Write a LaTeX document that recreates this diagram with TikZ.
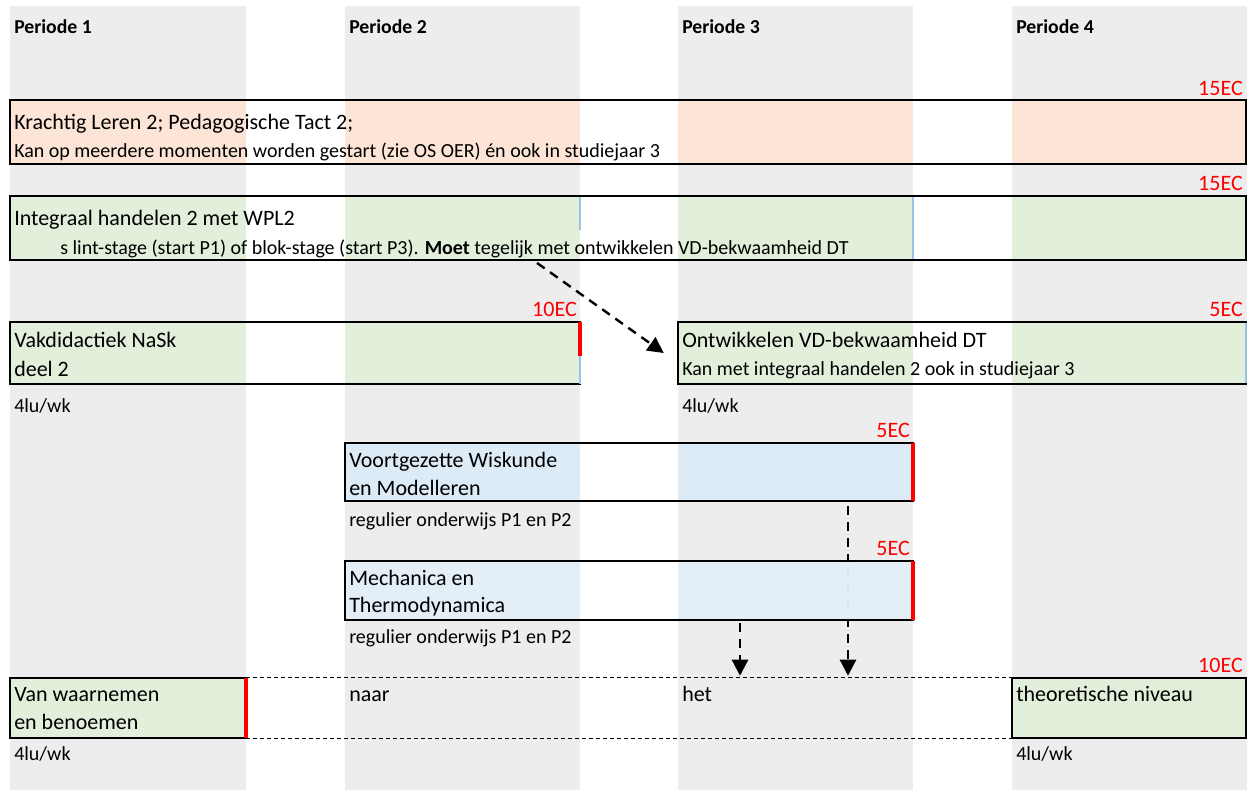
\documentclass[tikz,border=0pt]{standalone}
\usepackage{fontspec}
\setmainfont{Carlito}
\usetikzlibrary{arrows.meta,fit}
\definecolor{colgray}{HTML}{EDEDED}
\definecolor{orf}{HTML}{FCE4D6}
\definecolor{grf}{HTML}{E2EFDA}
\definecolor{blf}{HTML}{DDEBF7}
\definecolor{ecred}{HTML}{FF0000}
\definecolor{gridblue}{HTML}{9BC2E6}
\newcommand\segs[4]{\foreach \a/\b in {#4}{\fill[#1] (\a,#2) rectangle (\b,#3);}}
\begin{document}
\begin{tikzpicture}[x=0.75pt,y=-0.75pt,
  box/.style={draw=black,line width=1.4pt,inner sep=0pt},
  txt/.style={anchor=base west,inner sep=0pt,font=\fontsize{16.5}{19}\selectfont},
  sml/.style={anchor=base west,inner sep=0pt,font=\fontsize{15}{18}\selectfont},
  hdr/.style={anchor=base west,inner sep=0pt,font=\bfseries\fontsize{14.8}{17}\selectfont},
  ec/.style={anchor=base east,inner sep=0pt,text=ecred,font=\fontsize{16.5}{19}\selectfont},
  darrow/.style={line width=1.8pt,dash pattern=on 7pt off 5pt,-{Triangle[length=12pt,width=12pt]}},
  dline/.style={line width=1.1pt,dash pattern=on 3pt off 2.25pt},
  redge/.style={draw=ecred,line width=2.4pt},
  gline/.style={draw=gridblue,line width=1.5pt}]
\useasboundingbox (0,0) rectangle (1247,790);
\fill[white] (0,0) rectangle (1247,790);
\segs{colgray}{6}{790}{10/246,345/580,678/913,1012/1247}

% headers
\node[hdr] (p1) at (14,33) {Periode 1};
\node[hdr] (p2) at (349,33) {Periode 2};
\node[hdr] (p3) at (682,33) {Periode 3};
\node[hdr] (p4) at (1016,33) {Periode 4};

% Krachtig Leren
\fill[white] (10,100) rectangle (1246,164);
\segs{orf}{100}{164}{10/246,345/580,678/913,1012/1246}
\node[box,fit={(10,100)(1246,164)}] (kl) {};
\node[ec] (kl-ec) at (1243,95) {15EC};
\node[txt] (kl-t1) at (14,129) {Krachtig Leren 2; Pedagogische Tact 2;};
\node[sml] (kl-t2) at (14,157) {Kan op meerdere momenten worden gestart (zie OS OER) én ook in studiejaar 3};

% Integraal handelen
\fill[white] (10,196) rectangle (1246,260);
\segs{grf}{196}{260}{10/246,345/580,678/913,1012/1246}
\node[box,fit={(10,196)(1246,260)}] (ih) {};
\draw[gline] (580,197) -- (580,230);
\draw[gline] (913,197) -- (913,259);
\node[ec] (ih-ec) at (1243,190) {15EC};
\node[txt] (ih-t1) at (14,225) {Integraal handelen 2 met WPL2};
\node[sml] (ih-t2) at (60,254) {s lint-stage (start P1) of blok-stage (start P3). \textbf{Moet} tegelijk met ontwikkelen VD-bekwaamheid DT};

% Vakdidactiek
\fill[white] (10,322) rectangle (580,384);
\segs{grf}{322}{384}{10/246,345/580}
\node[box,fit={(10,322)(580,384)}] (vd) {};
\draw[redge] (580,322) -- (580,356);
\draw[gline] (580,356) -- (580,384);
\node[ec] (vd-ec) at (577,316) {10EC};
\node[txt] (vd-t1) at (14,347) {Vakdidactiek NaSk};
\node[txt] (vd-t2) at (14,376) {deel 2};
\node[sml] (vd-lu) at (14,412) {4lu/wk};

% Ontwikkelen
\fill[white] (678,322) rectangle (1246,384);
\segs{grf}{322}{384}{678/913,1012/1246}
\node[box,fit={(678,322)(1246,384)}] (ow) {};
\draw[gline] (1246,323) -- (1246,383);
\node[ec] (ow-ec) at (1243,316) {5EC};
\node[txt] (ow-t1) at (682,347) {Ontwikkelen VD-bekwaamheid DT};
\node[sml] (ow-t2) at (682,375) {Kan met integraal handelen 2 ook in studiejaar 3};
\node[sml] (ow-lu) at (682,412) {4lu/wk};

\coordinate (c537) at (537,0);
\draw[darrow] ([yshift=-1.5pt]ih.south -| c537) -- ([xshift=-10pt]ow.west);

% Voortgezette Wiskunde
\fill[white] (345,443) rectangle (913,501);
\segs{blf}{443}{501}{345/580,678/913}
\node[box,fit={(345,443)(913,501)}] (vw) {};
\draw[redge] (913,443) -- (913,501);
\node[ec] (vw-ec) at (910,437) {5EC};
\node[txt] (vw-t1) at (349,467) {Voortgezette Wiskunde};
\node[txt] (vw-t2) at (349,495) {en Modelleren};
\node[sml] (vw-r) at (349,526) {regulier onderwijs P1 en P2};

% bottom row dashed region
\node[inner sep=0pt,fit={(246,678)(1012,738)}] (mid) {};

\coordinate (c848) at (848,0);
\coordinate (c740) at (740,0);
\draw[darrow] ([yshift=-3pt]vw.south -| c848) -- ([yshift=1.5pt]mid.north -| c848);

% Mechanica
\fill[white,fill opacity=0.8] (345,561) rectangle (913,620);
\segs{blf,fill opacity=0.8}{561}{620}{345/580,678/913}
\node[box,fit={(345,561)(913,620)}] (mt) {};
\draw[redge] (913,561) -- (913,620);
\node[ec] (mt-ec) at (910,555) {5EC};
\node[txt] (mt-t1) at (349,585) {Mechanica en};
\node[txt] (mt-t2) at (349,612) {Thermodynamica};
\node[sml] (mt-r) at (349,643) {regulier onderwijs P1 en P2};

\draw[darrow] ([yshift=-1.5pt]mt.south -| c740) -- ([yshift=1.5pt]mid.north -| c740);

% bottom row
\fill[grf] (10,678) rectangle (246,738);
\node[box,fit={(10,678)(246,738)}] (vb) {};
\draw[redge] (246,678) -- (246,738);
\fill[grf] (1012,678) rectangle (1246,738);
\node[box,fit={(1012,678)(1246,738)}] (tn) {};
\draw[dline] (mid.north west) -- (mid.north east);
\draw[dline] (mid.south west) -- (mid.south east);
\node[ec] (tn-ec) at (1243,672) {10EC};
\node[txt] (vb-t1) at (14,701) {Van waarnemen};
\node[txt] (vb-t2) at (14,729) {en benoemen};
\node[txt] (naar) at (349,701) {naar};
\node[txt] (het) at (682,701) {het};
\node[txt] (tn-t1) at (1016,701) {theoretische niveau};
\node[sml] (vb-lu) at (14,760) {4lu/wk};
\node[sml] (tn-lu) at (1016,760) {4lu/wk};
\end{tikzpicture}
\end{document}
